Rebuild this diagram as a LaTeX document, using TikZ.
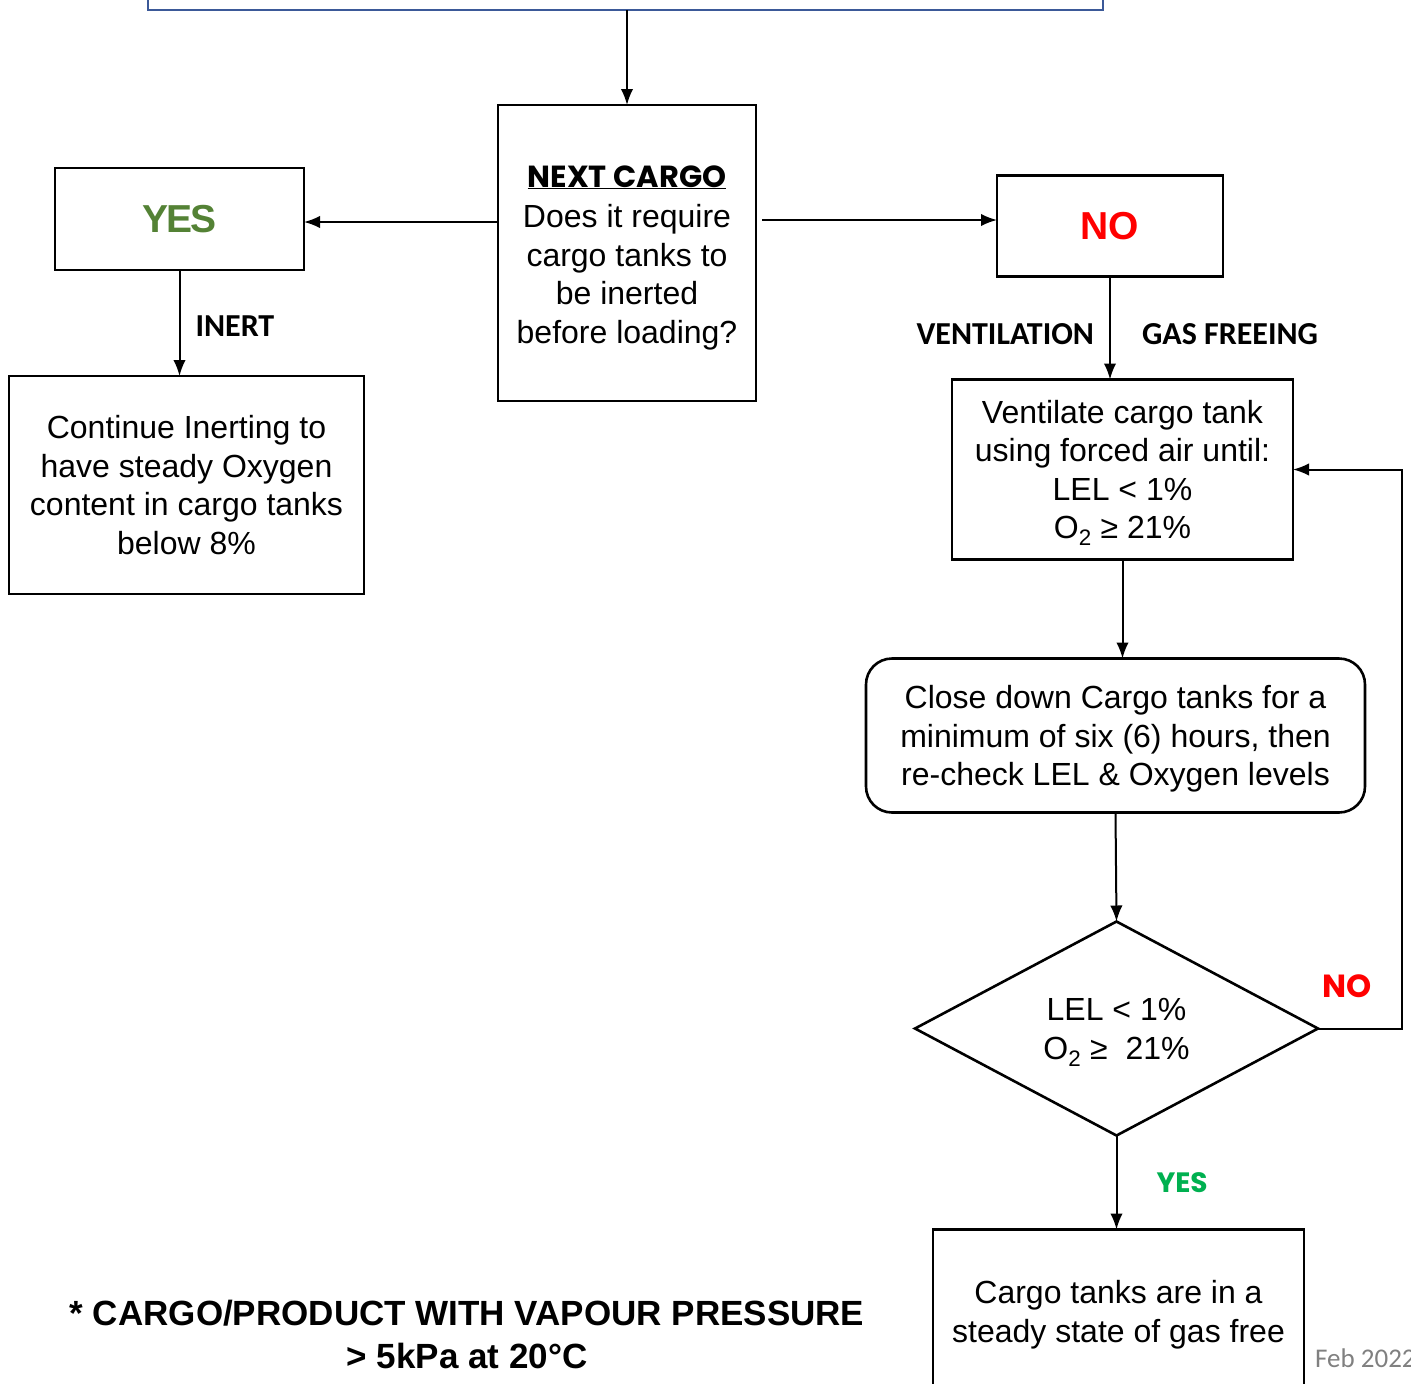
\documentclass[tikz,border=0pt]{standalone}
\usepackage{fontspec}
\setmainfont{Liberation Sans}
\newfontfamily\calibri{Carlito}
\newfontfamily\gothic{Poppins}
\usetikzlibrary{positioning,shapes.geometric,arrows.meta}

\definecolor{frameblue}{RGB}{59,89,152}
\definecolor{yesgreen}{RGB}{84,130,53}
\definecolor{okgreen}{RGB}{0,176,80}
\definecolor{nored}{RGB}{255,0,0}
\definecolor{stampgray}{RGB}{128,128,128}

\tikzset{
  process/.style={draw, line width=2.6pt, align=center, inner sep=0pt, outer sep=0pt,
    text depth=0pt, font=\fontsize{32}{38.5}\selectfont},
  answer/.style={draw, line width=2.6pt, inner sep=0pt, outer sep=0pt},
  decision/.style={diamond, draw, line width=2.6pt, align=center, inner sep=0pt,
    outer sep=0pt, text depth=0pt, font=\fontsize{32}{39}\selectfont},
  flow/.style={line width=2pt, -{Latex[length=16pt,width=12.5pt]}},
  tag/.style={font=\calibri\bfseries\fontsize{32}{38}\selectfont, inner sep=0pt},
  gtag/.style={font=\gothic\bfseries\fontsize{28}{34}\selectfont, inner sep=0pt},
}

\begin{document}
\begin{tikzpicture}[x=1pt, y=-1pt]

    \useasboundingbox (0,0) rectangle (1411,1384);

    % Define nodes
    \node[draw=frameblue, line width=2.6pt, outer sep=0pt, minimum width=955pt,
          minimum height=100pt, anchor=south]                   (prev) at (625.5,10) {};
    \node[process, minimum width=258pt, minimum height=296pt]   (cargo) at (627,253)
      {\rule{0pt}{24pt}{\gothic\bfseries\fontsize{30.5}{36}\selectfont\underline{NEXT CARGO}}\\[2pt]
       Does it require\\cargo tanks to\\be inerted\\before loading?};

    \node[answer, minimum width=249pt, minimum height=102pt,
          left=194pt of cargo, yshift=34pt]                     (yes)
      {\fontsize{39}{44}\selectfont\bfseries\addfontfeatures{LetterSpace=-4}\color{yesgreen}YES};
    \node[answer, minimum width=226pt, minimum height=101pt,
          right=241pt of cargo, yshift=27pt]                    (no)
      {\fontsize{39}{44}\selectfont\bfseries\color{nored}NO};

    % inert branch
    \node[process, minimum width=355pt, minimum height=218pt,
          below=106pt of yes, xshift=7pt]                       (inert)
      {Continue Inerting to\\have steady Oxygen\\content in cargo tanks\\below 8\%};

    % ventilation branch
    \node[process, minimum width=341pt, minimum height=180pt,
          below=103pt of no, xshift=12.5pt]                     (vent)
      {Ventilate cargo tank\\using forced air until:\\LEL < 1\%\\O\textsubscript{2} ≥ 21\%};
    \node[process, rounded corners=26pt, minimum width=499pt, minimum height=154pt,
          below=99pt of vent, xshift=-7pt]                      (close)
      {Close down Cargo tanks for a\\minimum of six (6) hours, then\\re-check LEL \& Oxygen levels};
    \node[decision, minimum width=403pt, minimum height=214pt,
          below=109pt of close, xshift=1pt]                     (check)
      {LEL < 1\%\\O\textsubscript{2} ≥ \ 21\%};
    \node[process, minimum width=371pt, minimum height=164pt,
          below=94pt of check, xshift=2pt]                      (free)
      {Cargo tanks are in a\\steady state of gas free};

    % notes
    \node[align=center, inner sep=0pt, font=\bfseries\fontsize{35}{43}\selectfont]
                                                                (note) at (467,1334)
      {* CARGO/PRODUCT WITH VAPOUR PRESSURE\\> 5kPa at 20°C};
    \node[anchor=west, inner sep=0pt, text=stampgray,
          font=\calibri\fontsize{27}{32}\selectfont]            (stamp) at (1315,1358) {Feb 2022};

    % Connect the nodes
    \draw[flow] (prev.south -| cargo.north) -- (cargo.north);
    \draw[flow] ([yshift=-3pt]cargo.west |- yes.east) -- ([yshift=-3pt]yes.east);
    \draw[flow, shorten <=6pt] ([yshift=6pt]cargo.east |- no.west) -- ([yshift=6pt]no.west);
    \draw[flow] (yes.south) -- node[tag, anchor=west, xshift=15pt, pos=0.53] {INERT}
                (yes.south |- inert.north);
    \draw[flow] (no.south) --
                node[tag, anchor=east, xshift=-15pt, pos=0.555] {VENTILATION}
                node[tag, anchor=west, xshift=31pt, pos=0.555] {GAS FREEING}
                (no.south |- vent.north);
    \draw[flow] (vent.south) -- (vent.south |- close.north);
    \draw[flow] (close.south) -- (check.north);
    \draw[flow] (check.south) -- node[gtag, text=okgreen, anchor=west, xshift=39pt] {YES}
                (check.south |- free.north);
    \draw[flow] (check.east) -- node[gtag, text=nored, font=\gothic\bfseries\fontsize{32}{38}\selectfont,
                pos=0.35, above=30pt] {NO}
                ++(84,0) |- (vent.east);

\end{tikzpicture}
\end{document}
